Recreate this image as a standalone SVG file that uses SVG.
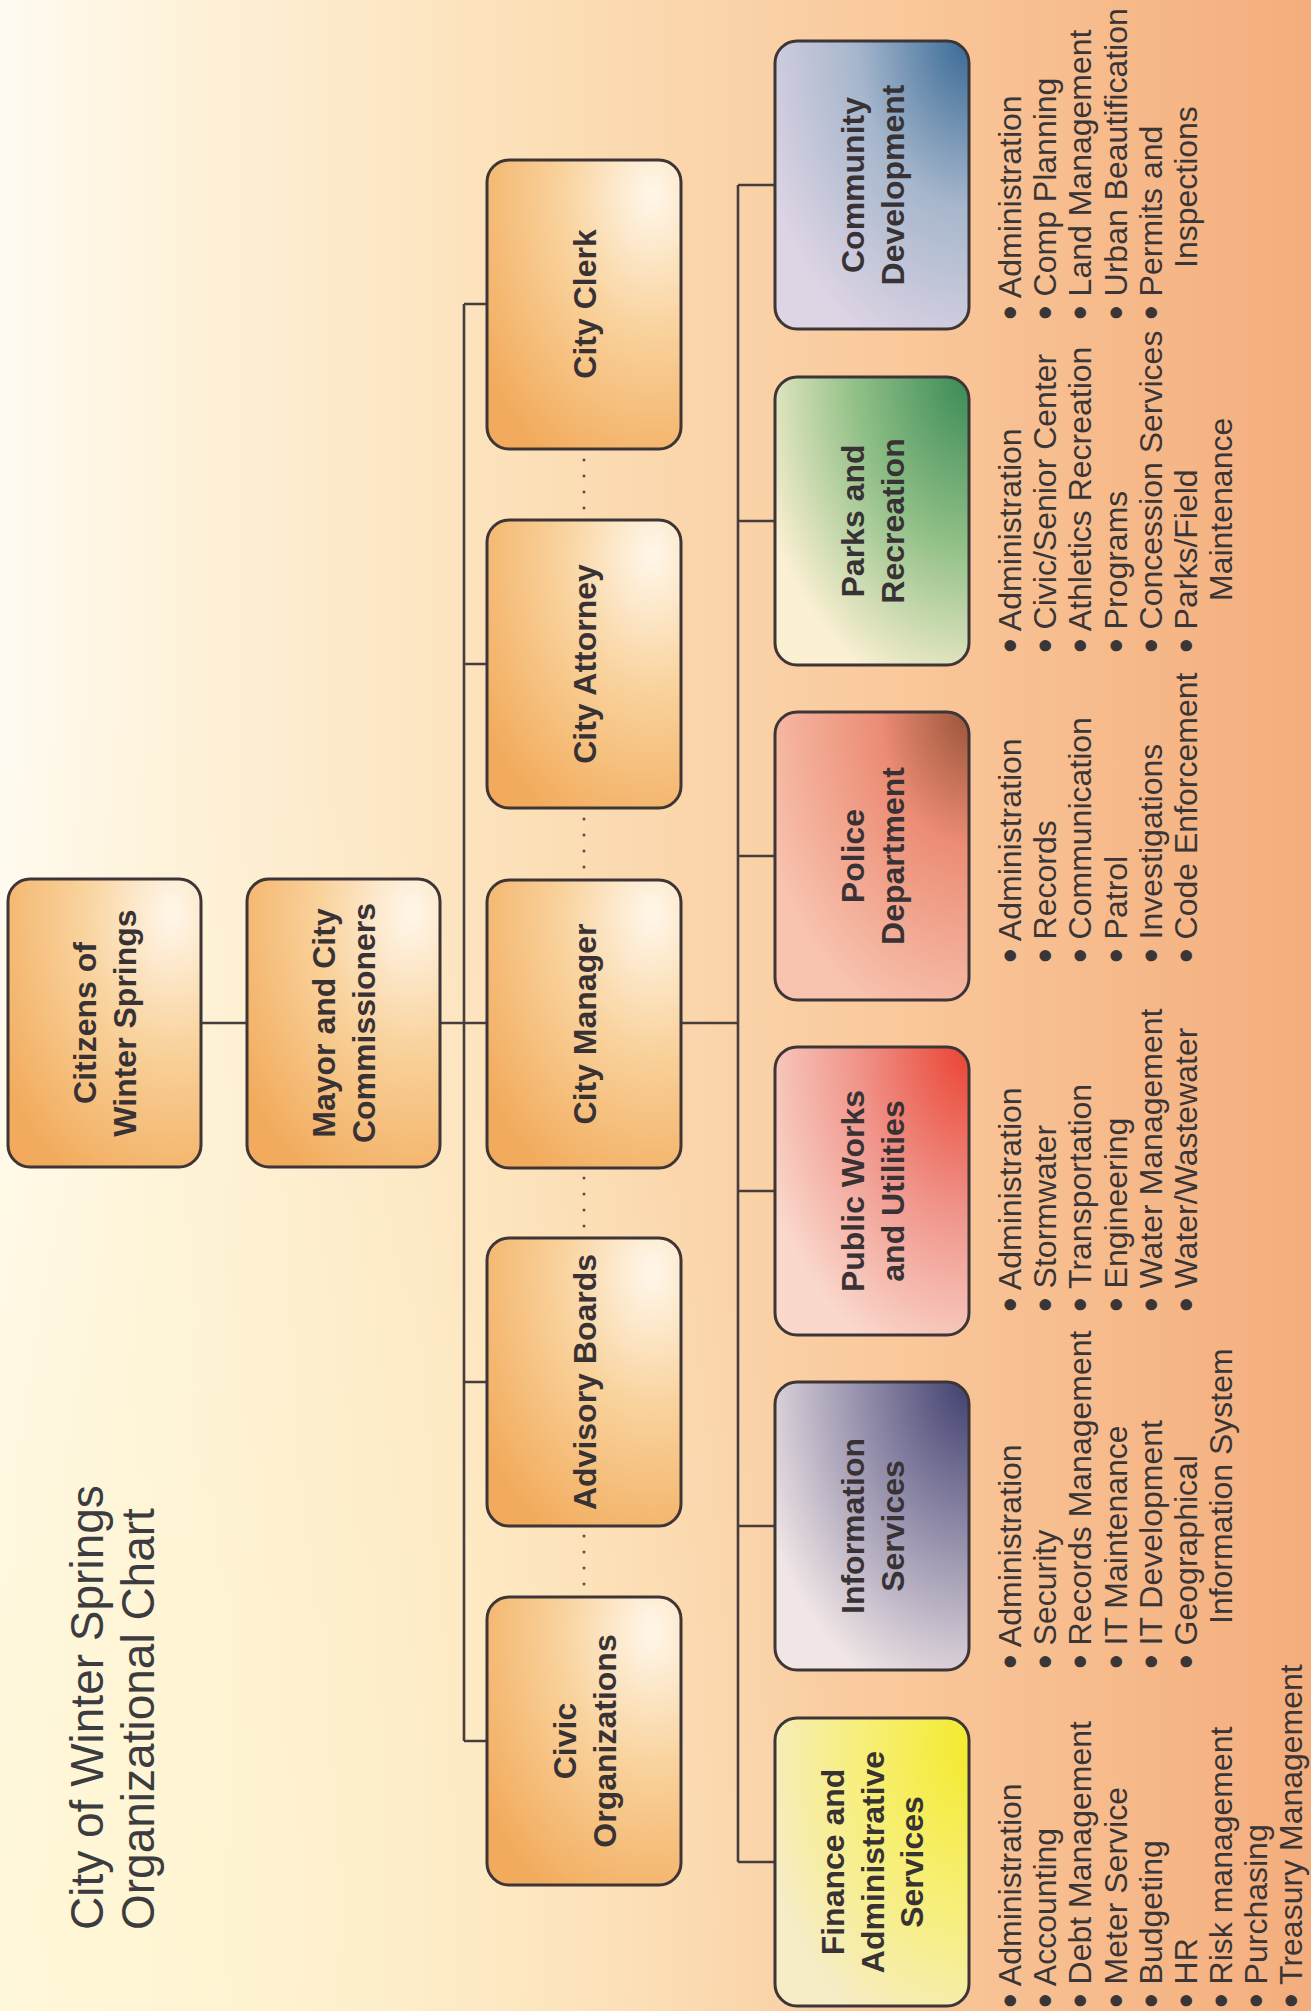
<svg xmlns="http://www.w3.org/2000/svg" width="1311" height="2011" viewBox="0 0 1311 2011">
<defs>
<linearGradient id="bg" x1="0" y1="0" x2="1" y2="0">
<stop offset="0" stop-color="#fffbf2"/>
<stop offset="0.12" stop-color="#fef3dc"/>
<stop offset="0.4" stop-color="#fce0b8"/>
<stop offset="0.7" stop-color="#f9c79a"/>
<stop offset="1" stop-color="#f4ad7c"/>
</linearGradient>
<radialGradient id="bgTint" cx="0.05" cy="0.95" r="0.6">
<stop offset="0" stop-color="#fff6d0" stop-opacity="0.8"/>
<stop offset="1" stop-color="#fff6d0" stop-opacity="0"/>
</radialGradient>
<radialGradient id="gOrange" cx="0.85" cy="0.12" r="1.05">
<stop offset="0" stop-color="#fff7ea"/>
<stop offset="0.45" stop-color="#f9d29c"/>
<stop offset="1" stop-color="#f2ab5c"/>
</radialGradient>
<radialGradient id="gFin" cx="1" cy="0.1" r="1.1">
<stop offset="0" stop-color="#f4ea2e"/>
<stop offset="0.5" stop-color="#f7ef78"/>
<stop offset="1" stop-color="#f6ecc6"/>
</radialGradient>
<radialGradient id="gInfo" cx="1" cy="0" r="1.15">
<stop offset="0" stop-color="#40406f"/>
<stop offset="0.5" stop-color="#9892ae"/>
<stop offset="1" stop-color="#f0e6e6"/>
</radialGradient>
<radialGradient id="gPub" cx="1" cy="0" r="1.15">
<stop offset="0" stop-color="#ea4332"/>
<stop offset="0.5" stop-color="#f0948a"/>
<stop offset="1" stop-color="#fad8cc"/>
</radialGradient>
<radialGradient id="gPol" cx="1" cy="0" r="1.15">
<stop offset="0" stop-color="#9a5438"/>
<stop offset="0.4" stop-color="#ec8c74"/>
<stop offset="1" stop-color="#f8c4b0"/>
</radialGradient>
<radialGradient id="gPark" cx="1" cy="0" r="1.15">
<stop offset="0" stop-color="#3a8a56"/>
<stop offset="0.5" stop-color="#8fbf86"/>
<stop offset="1" stop-color="#fbf0d2"/>
</radialGradient>
<radialGradient id="gCom" cx="1" cy="0" r="1.15">
<stop offset="0" stop-color="#386a96"/>
<stop offset="0.5" stop-color="#a6b6cc"/>
<stop offset="1" stop-color="#ddd4e4"/>
</radialGradient>
<style>
.box{stroke:#3d3536;stroke-width:3}
.h{font-family:"Liberation Sans",Arial,sans-serif;font-weight:bold;font-size:32px;fill:#383234;text-anchor:middle}
.li{font-family:"Liberation Sans",Arial,sans-serif;font-size:32px;fill:#3a3536}
.b{font-size:42px}
.title{font-family:"Liberation Sans",Arial,sans-serif;font-size:46px;fill:#3c3c40}
.ln{stroke:#473d3d;stroke-width:2.6;fill:none}
.dot{stroke:#5a5050;stroke-width:3;stroke-linecap:round;stroke-dasharray:0 16;fill:none}
</style>
</defs>
<rect x="0" y="0" width="1311" height="2011" fill="url(#bg)"/>
<rect x="0" y="0" width="1311" height="2011" fill="url(#bgTint)"/>

<g id="title">
<text class="title" transform="rotate(-90)"><tspan x="-1930" y="103">City of Winter Springs</tspan><tspan x="-1930" y="154">Organizational Chart</tspan></text>
</g>

<g id="connectors">
<path class="ln" d="M201 1023H247M440 1023H487M681 1023H738"/>
<path class="ln" d="M464 304V1741M464 304H487M464 664H487M464 1382H487M464 1741H487"/>
<path class="ln" d="M738 185V1862M738 185H775M738 521H775M738 856H775M738 1191H775M738 1526H775M738 1862H775"/>
<path class="dot" d="M584 460V520M584 819V880M584 1178V1238M584 1536V1597"/>
</g>

<g id="citizens">
<rect class="box" x="8" y="879" width="193" height="288" rx="22" fill="url(#gOrange)"/>
<text class="h" transform="translate(104,1023) rotate(-90)"><tspan x="0" y="-8">Citizens of</tspan><tspan x="0" y="32">Winter Springs</tspan></text>
</g>
<g id="mayor">
<rect class="box" x="247" y="879" width="193" height="288" rx="22" fill="url(#gOrange)"/>
<text class="h" transform="translate(343,1023) rotate(-90)"><tspan x="0" y="-8">Mayor and City</tspan><tspan x="0" y="32">Commissioners</tspan></text>
</g>
<g id="city-clerk">
<rect class="box" x="487" y="160" width="194" height="289" rx="22" fill="url(#gOrange)"/>
<text class="h" transform="translate(584,304) rotate(-90)" y="11.5">City Clerk</text>
</g>
<g id="city-attorney">
<rect class="box" x="487" y="520" width="194" height="288" rx="22" fill="url(#gOrange)"/>
<text class="h" transform="translate(584,664) rotate(-90)" y="11.5">City Attorney</text>
</g>
<g id="city-manager">
<rect class="box" x="487" y="880" width="194" height="288" rx="22" fill="url(#gOrange)"/>
<text class="h" transform="translate(584,1024) rotate(-90)" y="11.5">City Manager</text>
</g>
<g id="advisory-boards">
<rect class="box" x="487" y="1238" width="194" height="288" rx="22" fill="url(#gOrange)"/>
<text class="h" transform="translate(584,1382) rotate(-90)" y="11.5">Advisory Boards</text>
</g>
<g id="civic-organizations">
<rect class="box" x="487" y="1597" width="194" height="288" rx="22" fill="url(#gOrange)"/>
<text class="h" transform="translate(584,1741) rotate(-90)"><tspan x="0" y="-8">Civic</tspan><tspan x="0" y="32">Organizations</tspan></text>
</g>

<g id="finance">
<rect class="box" x="775" y="1718" width="194" height="288" rx="22" fill="url(#gFin)"/>
<text class="h" transform="translate(872,1862) rotate(-90)"><tspan x="0" y="-28">Finance and</tspan><tspan x="0" y="11.5">Administrative</tspan><tspan x="0" y="51">Services</tspan></text>
<text class="li" transform="rotate(-90)">
<tspan class="b" x="-2008" y="1024">•</tspan><tspan y="1021"> Administration</tspan>
<tspan class="b" x="-2008" y="1059">•</tspan><tspan y="1056"> Accounting</tspan>
<tspan class="b" x="-2008" y="1094">•</tspan><tspan y="1091"> Debt Management</tspan>
<tspan class="b" x="-2008" y="1130">•</tspan><tspan y="1127"> Meter Service</tspan>
<tspan class="b" x="-2008" y="1165">•</tspan><tspan y="1162"> Budgeting</tspan>
<tspan class="b" x="-2008" y="1200">•</tspan><tspan y="1197"> HR</tspan>
<tspan class="b" x="-2008" y="1235">•</tspan><tspan y="1232"> Risk management</tspan>
<tspan class="b" x="-2008" y="1270">•</tspan><tspan y="1267"> Purchasing</tspan>
<tspan class="b" x="-2008" y="1305">•</tspan><tspan y="1302"> Treasury Management</tspan>
</text>
</g>

<g id="information-services">
<rect class="box" x="775" y="1382" width="194" height="288" rx="22" fill="url(#gInfo)"/>
<text class="h" transform="translate(872,1526) rotate(-90)"><tspan x="0" y="-8">Information</tspan><tspan x="0" y="32">Services</tspan></text>
<text class="li" transform="rotate(-90)">
<tspan class="b" x="-1669" y="1024">•</tspan><tspan y="1021"> Administration</tspan>
<tspan class="b" x="-1669" y="1059">•</tspan><tspan y="1056"> Security</tspan>
<tspan class="b" x="-1669" y="1094">•</tspan><tspan y="1091"> Records Management</tspan>
<tspan class="b" x="-1669" y="1130">•</tspan><tspan y="1127"> IT Maintenance</tspan>
<tspan class="b" x="-1669" y="1165">•</tspan><tspan y="1162"> IT Development</tspan>
<tspan class="b" x="-1669" y="1200">•</tspan><tspan y="1197"> Geographical</tspan>
<tspan x="-1624" y="1232">Information System</tspan>
</text>
</g>

<g id="public-works">
<rect class="box" x="775" y="1047" width="194" height="288" rx="22" fill="url(#gPub)"/>
<text class="h" transform="translate(872,1191) rotate(-90)"><tspan x="0" y="-8">Public Works</tspan><tspan x="0" y="32">and Utilities</tspan></text>
<text class="li" transform="rotate(-90)">
<tspan class="b" x="-1312" y="1024">•</tspan><tspan y="1021"> Administration</tspan>
<tspan class="b" x="-1312" y="1059">•</tspan><tspan y="1056"> Stormwater</tspan>
<tspan class="b" x="-1312" y="1094">•</tspan><tspan y="1091"> Transportation</tspan>
<tspan class="b" x="-1312" y="1130">•</tspan><tspan y="1127"> Engineering</tspan>
<tspan class="b" x="-1312" y="1165">•</tspan><tspan y="1162"> Water Management</tspan>
<tspan class="b" x="-1312" y="1200">•</tspan><tspan y="1197"> Water/Wastewater</tspan>
</text>
</g>

<g id="police">
<rect class="box" x="775" y="712" width="194" height="288" rx="22" fill="url(#gPol)"/>
<text class="h" transform="translate(872,856) rotate(-90)"><tspan x="0" y="-8">Police</tspan><tspan x="0" y="32">Department</tspan></text>
<text class="li" transform="rotate(-90)">
<tspan class="b" x="-963" y="1024">•</tspan><tspan y="1021"> Administration</tspan>
<tspan class="b" x="-963" y="1059">•</tspan><tspan y="1056"> Records</tspan>
<tspan class="b" x="-963" y="1094">•</tspan><tspan y="1091"> Communication</tspan>
<tspan class="b" x="-963" y="1130">•</tspan><tspan y="1127"> Patrol</tspan>
<tspan class="b" x="-963" y="1165">•</tspan><tspan y="1162"> Investigations</tspan>
<tspan class="b" x="-963" y="1200">•</tspan><tspan y="1197"> Code Enforcement</tspan>
</text>
</g>

<g id="parks">
<rect class="box" x="775" y="377" width="194" height="288" rx="22" fill="url(#gPark)"/>
<text class="h" transform="translate(872,521) rotate(-90)"><tspan x="0" y="-8">Parks and</tspan><tspan x="0" y="32">Recreation</tspan></text>
<text class="li" transform="rotate(-90)">
<tspan class="b" x="-653" y="1024">•</tspan><tspan y="1021"> Administration</tspan>
<tspan class="b" x="-653" y="1059">•</tspan><tspan y="1056"> Civic/Senior Center</tspan>
<tspan class="b" x="-653" y="1094">•</tspan><tspan y="1091"> Athletics Recreation</tspan>
<tspan class="b" x="-653" y="1130">•</tspan><tspan y="1127"> Programs</tspan>
<tspan class="b" x="-653" y="1165">•</tspan><tspan y="1162"> Concession Services</tspan>
<tspan class="b" x="-653" y="1200">•</tspan><tspan y="1197"> Parks/Field</tspan>
<tspan x="-601" y="1232">Maintenance</tspan>
</text>
</g>

<g id="community-development">
<rect class="box" x="775" y="41" width="194" height="288" rx="22" fill="url(#gCom)"/>
<text class="h" transform="translate(872,185) rotate(-90)"><tspan x="0" y="-8">Community</tspan><tspan x="0" y="32">Development</tspan></text>
<text class="li" transform="rotate(-90)">
<tspan class="b" x="-320" y="1024">•</tspan><tspan y="1021"> Administration</tspan>
<tspan class="b" x="-320" y="1059">•</tspan><tspan y="1056"> Comp Planning</tspan>
<tspan class="b" x="-320" y="1094">•</tspan><tspan y="1091"> Land Management</tspan>
<tspan class="b" x="-320" y="1130">•</tspan><tspan y="1127"> Urban Beautification</tspan>
<tspan class="b" x="-320" y="1165">•</tspan><tspan y="1162"> Permits and</tspan>
<tspan x="-268" y="1197">Inspections</tspan>
</text>
</g>
</svg>
